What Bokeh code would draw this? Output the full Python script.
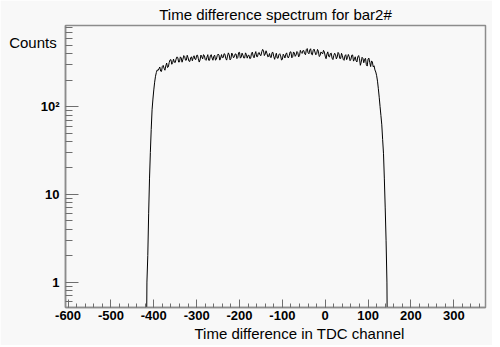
from bokeh.plotting import figure
from bokeh.models import Range1d, FixedTicker, Title
from bokeh.embed import file_html
from bokeh.resources import INLINE

# ---- data ----
title_text = "Time difference spectrum for bar2#"
x_title = "Time difference in TDC channel"
y_title = "Counts"

channels = list(range(-420, 150, 2))  # bin centres (TDC channel), 2-channel bins

edge_left = [0, 0, 1, 2, 6, 15, 30, 55, 92, 122, 155, 190, 222, 245, 262, 258]
# plateau, channels -388 ... 112 (every 4th channel)
plateau_even = [
    270, 254, 288, 274, 291, 279, 319, 343, 318, 321,
    348, 362, 324, 359, 347, 373, 339, 361, 327, 370,
    362, 348, 384, 352, 341, 370, 391, 345, 366, 338,
    379, 359, 375, 339, 381, 389, 357, 362, 401, 353,
    377, 389, 353, 388, 370, 397, 363, 416, 367, 386,
    359, 393, 383, 353, 405, 376, 397, 372, 408, 387,
    423, 432, 398, 404, 374, 366, 413, 371, 380, 358,
    392, 379, 345, 381, 396, 369, 379, 421, 370, 408,
    388, 413, 381, 414, 435, 400, 448, 410, 442, 396,
    439, 420, 402, 429, 381, 410, 438, 376, 397, 374,
    402, 357, 382, 392, 368, 400, 354, 382, 337, 391,
    363, 371, 347, 388, 345, 333, 369, 351, 321, 355,
    347, 301, 350, 317, 332, 284,
]
# plateau, channels -386 ... 110 (the bins in between)
plateau_mid = [
    283, 252, 295, 260, 314, 284, 341, 304, 348, 318,
    369, 322, 369, 321, 382, 338, 385, 330, 359, 333,
    380, 344, 386, 322, 387, 350, 383, 337, 391, 337,
    391, 338, 386, 346, 397, 339, 392, 363, 396, 339,
    410, 341, 408, 360, 399, 353, 413, 357, 407, 358,
    410, 357, 386, 356, 418, 360, 424, 371, 414, 381,
    449, 382, 433, 370, 403, 363, 416, 346, 406, 356,
    401, 340, 396, 358, 410, 359, 420, 360, 420, 374,
    425, 369, 438, 404, 435, 390, 459, 400, 457, 389,
    452, 390, 449, 373, 420, 399, 419, 352, 421, 369,
    407, 344, 406, 350, 415, 354, 405, 346, 379, 343,
    393, 334, 386, 330, 370, 323, 382, 296, 365, 316,
    356, 290, 357, 286, 323,
]
edge_right = [292, 262, 248, 225, 195, 160, 128, 100, 79, 62, 42, 29, 15, 7, 3, 1, 0, 0]

plateau = []
for i, v in enumerate(plateau_even):
    plateau.append(v)
    if i < len(plateau_mid):
        plateau.append(plateau_mid[i])
counts = edge_left + plateau + edge_right

x_major = [-600, -500, -400, -300, -200, -100, 0, 100, 200, 300]
x_minor = list(range(-600, 374, 20))
y_major = [1, 10, 100]
y_major_labels = ["1", "10", "10\u00b2"]
y_minor = [0.6, 0.7, 0.8, 0.9, 2, 3, 4, 5, 6, 7, 8, 9,
           20, 30, 40, 50, 60, 70, 80, 90, 200, 300, 400, 500, 600, 700, 800]

# empty bins cannot be shown on a log axis: push them below the frame
y_plot = [c if c > 0 else 0.05 for c in counts]

p = figure(width=492, height=345,
           x_range=Range1d(-606, 374), y_range=Range1d(0.513, 841),
           y_axis_type="log", output_backend="svg", toolbar_location=None,
           min_border_left=65, min_border_right=7,
           min_border_top=23, min_border_bottom=38)

p.background_fill_color = "#f8f8f8"
p.border_fill_color = "#f8f8f8"
p.outline_line_color = "#8c8c8c"
p.outline_line_width = 1.5
p.grid.visible = False

p.title.text = title_text
p.title.align = "center"
p.title.text_font = "Liberation Sans"
p.title.text_font_size = "15px"
p.title.text_font_style = "normal"
p.title.text_color = "black"
p.title.standoff = 6

p.line(channels, y_plot, line_color="black", line_width=1)

p.xaxis.ticker = FixedTicker(ticks=x_major, minor_ticks=x_minor)
p.yaxis.ticker = FixedTicker(ticks=y_major, minor_ticks=y_minor)
p.xaxis.major_label_overrides = {v: str(v) for v in x_major}
p.yaxis.major_label_overrides = {v: s for v, s in zip(y_major, y_major_labels)}

for ax in (p.xaxis[0], p.yaxis[0]):
    ax.axis_line_color = "#8c8c8c"
    ax.axis_line_width = 1.5
    ax.major_tick_line_color = "#6e6e6e"
    ax.minor_tick_line_color = "#6e6e6e"
    ax.major_tick_out = 0
    ax.minor_tick_out = 0
    ax.major_label_text_font = "Liberation Sans"
    ax.major_label_text_font_style = "bold"
    ax.major_label_text_font_size = "13px"
    ax.major_label_text_color = "black"

p.xaxis.major_tick_in = 8
p.xaxis.minor_tick_in = 4
p.xaxis.major_label_standoff = 3
p.yaxis.major_tick_in = 13
p.yaxis.minor_tick_in = 7
p.yaxis.major_label_standoff = 6

ya = p.yaxis[0]
ya.axis_label = "\n\n" + y_title
ya.axis_label_orientation = "horizontal"
ya.axis_label_text_font = "Liberation Sans"
ya.axis_label_text_font_size = "15px"
ya.axis_label_text_font_style = "normal"
ya.axis_label_text_color = "black"
ya.axis_label_text_line_height = 1.0
ya.axis_label_standoff = -19
ya.axis_label_align = "end"

p.add_layout(Title(text=x_title, align="left", offset=129,
                   text_font="Liberation Sans", text_font_size="15px",
                   text_font_style="normal", text_color="black", standoff=0), "below")

open("out.html", "w").write(file_html(p, INLINE))
